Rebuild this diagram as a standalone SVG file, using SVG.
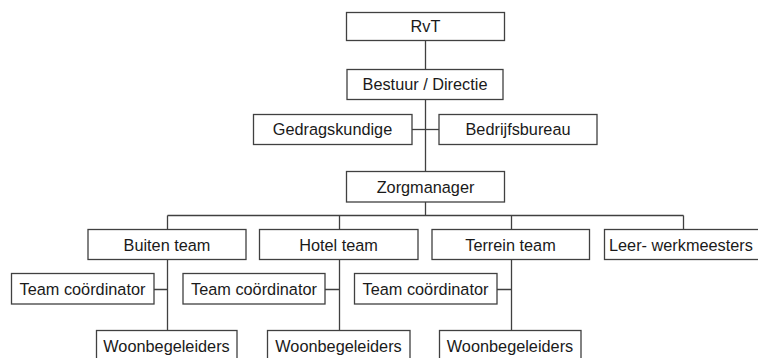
<svg xmlns="http://www.w3.org/2000/svg" width="758" height="358" viewBox="0 0 758 358">
<style>
.box{fill:#fff;stroke:#404040;stroke-width:1.3}
.t{font-family:"Liberation Sans",Arial,sans-serif;font-size:16.3px;fill:#1a1a1a;text-anchor:middle}
.c{fill:none;stroke:#404040;stroke-width:1.3}
</style>
<rect width="758" height="358" fill="#fff"/>
<g id="connectors" class="c">
<path d="M425.5 40V69"/>
<path d="M425.5 99V171"/>
<path d="M412 129.5H439"/>
<path d="M425.5 202V215.5"/>
<path d="M167.5 215.5H683.5"/>
<path d="M167.5 215.5V229M339.5 215.5V229M511.5 215.5V229M683.5 215.5V229"/>
<path d="M167.5 259V330M154 289.5H167.5"/>
<path d="M339.5 259V330M325 289.5H339.5"/>
<path d="M511.5 259V330M497 289.5H511.5"/>
</g>
<g id="rvt"><rect class="box" x="346.5" y="12.5" width="158" height="28"/><text class="t" x="425.5" y="32">RvT</text></g>
<g id="bestuur"><rect class="box" x="347" y="69.5" width="156" height="30"/><text class="t" x="425" y="90">Bestuur / Directie</text></g>
<g id="gedragskundige"><rect class="box" x="253.5" y="114.5" width="158.5" height="30"/><text class="t" x="332.5" y="135">Gedragskundige</text></g>
<g id="bedrijfsbureau"><rect class="box" x="439" y="114.5" width="158" height="30"/><text class="t" x="518" y="135">Bedrijfsbureau</text></g>
<g id="zorgmanager"><rect class="box" x="346.5" y="171.5" width="158" height="30.5"/><text class="t" x="425.5" y="192.5">Zorgmanager</text></g>
<g id="buiten"><rect class="box" x="88" y="229.5" width="158" height="30"/><text class="t" x="167" y="251">Buiten team</text></g>
<g id="hotel"><rect class="box" x="259.5" y="229.5" width="158.5" height="30"/><text class="t" x="338.5" y="251">Hotel team</text></g>
<g id="terrein"><rect class="box" x="432" y="229.5" width="157.5" height="30"/><text class="t" x="510.5" y="251">Terrein team</text></g>
<g id="leer"><rect class="box" x="604.5" y="229.5" width="158" height="30"/><text class="t" x="609" y="251" style="text-anchor:start">Leer- werkmeesters</text></g>
<g id="tc1"><rect class="box" x="11.5" y="273.5" width="142.5" height="30.5"/><text class="t" x="82.5" y="295">Team coördinator</text></g>
<g id="tc2"><rect class="box" x="183" y="273.5" width="142" height="30.5"/><text class="t" x="254" y="295">Team coördinator</text></g>
<g id="tc3"><rect class="box" x="354.5" y="273.5" width="142.5" height="30.5"/><text class="t" x="425.5" y="295">Team coördinator</text></g>
<g id="wb1"><rect class="box" x="96.5" y="330.5" width="140.5" height="30"/><text class="t" x="166.5" y="352">Woonbegeleiders</text></g>
<g id="wb2"><rect class="box" x="267.5" y="330.5" width="142.5" height="30"/><text class="t" x="338.5" y="352">Woonbegeleiders</text></g>
<g id="wb3"><rect class="box" x="439.5" y="330.5" width="141.5" height="30"/><text class="t" x="510" y="352">Woonbegeleiders</text></g>
</svg>
